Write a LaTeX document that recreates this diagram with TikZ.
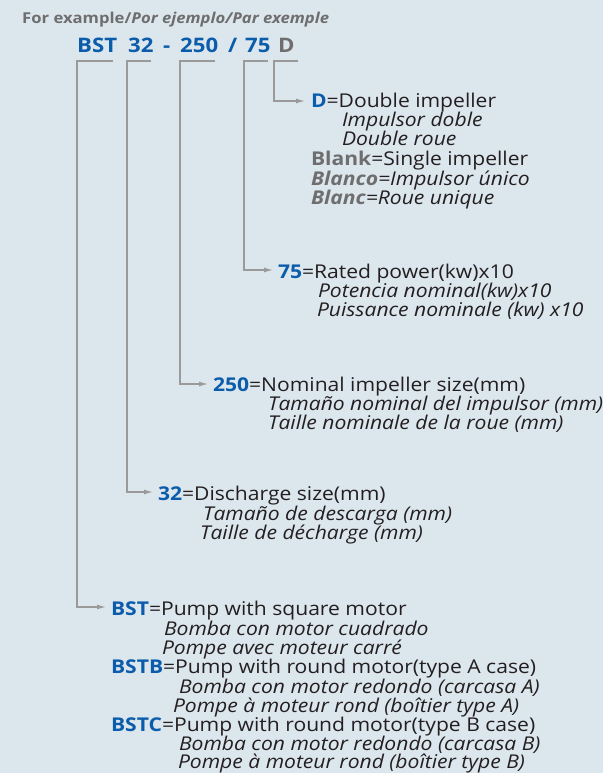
\documentclass[tikz,border=0pt]{standalone}
\usepackage{fontspec}
\setmainfont{Open Sans}[FakeStretch=1.11]
\usetikzlibrary{arrows.meta}
\definecolor{bg}{HTML}{DCE6ED}
\definecolor{blu}{HTML}{0B5CAB}
\definecolor{gry}{HTML}{6E6E6E}
\definecolor{txt}{HTML}{231F20}
\definecolor{ln}{HTML}{9A9A9A}
\tikzset{
  lbl/.style={anchor=base west,inner sep=0pt,outer sep=0pt,text=txt,font=\fontsize{19}{19}\selectfont},
  sub/.style={lbl,font=\fontsize{19}{19}\selectfont\itshape},
  code/.style={anchor=base west,inner sep=0pt,text=blu,font=\fontsize{20}{20}\selectfont\bfseries},
  brk/.style={draw=ln,line width=1.2pt},
  arr/.style={brk,-{Latex[length=9pt,width=5pt]}},
}
\newcommand{\bl}[1]{\textcolor{blu}{\bfseries #1}}
\newcommand{\gr}[1]{\textcolor{gry}{\bfseries #1}}
\begin{document}
\begin{tikzpicture}[x=1pt,y=-1pt]
\fill[bg] (0,0) rectangle (603,773);
\useasboundingbox (0,0) rectangle (603,773);
% header
\node[anchor=base west,inner sep=0pt,text=gry,font=\fontsize{15}{15}\selectfont\bfseries] (head) at (22,24) {For example/\textit{Por ejemplo/Par exemple}};
% code
\node[code] (cBST) at (77,53) {BST};
\node[code] (c32) at (128,53) {32};
\node[code] (cdash) at (163,53) {-};
\node[code] (c250) at (180,53) {250};
\node[code] (cslash) at (228,53) {/};
\node[code] (c75) at (245,53) {75};
\node[code,text=gry] (cD) at (278,53) {D};
% bracket coordinates
\coordinate (kBSTr) at (113,61); \coordinate (kBSTl) at (77,61); \coordinate (aBST) at (106,607);
\coordinate (k32r) at (151,61); \coordinate (k32l) at (127,61); \coordinate (a32) at (153,492);
\coordinate (k250r) at (215,61); \coordinate (k250l) at (180,61); \coordinate (a250) at (208,384);
\coordinate (k75r) at (268,61); \coordinate (k75l) at (244,61); \coordinate (a75) at (273,270);
\coordinate (kDr) at (298,61); \coordinate (kDl) at (274,61); \coordinate (aD) at (305,101);
\draw[arr] (kBSTr) -- (kBSTl) |- (aBST);
\draw[arr] (k32r) -- (k32l) |- (a32);
\draw[arr] (k250r) -- (k250l) |- (a250);
\draw[arr] (k75r) -- (k75l) |- (a75);
\draw[arr] (kDr) -- (kDl) |- (aD);
% D block
\node[lbl] (d1) at (311,108) {\bl{D}=Double impeller};
\node[sub] (d2) at (342,127) {Impulsor doble};
\node[sub] (d3) at (342,146) {Double roue};
\node[lbl] (d4) at (311,165) {\gr{Blank}=Single impeller};
\node[sub] (d5) at (311,185) {\gr{Blanco}=Impulsor único};
\node[sub] (d6) at (311,204) {\gr{Blanc}=Roue unique};
% 75 block
\node[lbl] (p1) at (278,278) {\bl{75}=Rated power(kw)x10};
\node[sub] (p2) at (318,297) {Potencia nominal(kw)x10};
\node[sub] (p3) at (317,316) {Puissance nominale (kw) x10};
% 250 block
\node[lbl] (n1) at (213,391) {\bl{250}=Nominal impeller size(mm)};
\node[sub] (n2) at (268,410) {Tamaño nominal del impulsor (mm)};
\node[sub] (n3) at (268,429) {Taille nominale de la roue (mm)};
% 32 block
\node[lbl] (s1) at (158,500) {\bl{32}=Discharge size(mm)};
\node[sub] (s2) at (203,520) {Tamaño de descarga (mm)};
\node[sub] (s3) at (200,539) {Taille de décharge (mm)};
% BST block
\node[lbl] (b1) at (111,615) {\bl{BST}=Pump with square motor};
\node[sub] (b2) at (164,635) {Bomba con motor cuadrado};
\node[sub] (b3) at (162,654) {Pompe avec moteur carré};
\node[lbl] (b4) at (111,673) {\bl{BSTB}=Pump with round motor(type A case)};
\node[sub] (b5) at (179,693) {Bomba con motor redondo (carcasa A)};
\node[sub] (b6) at (173,712) {Pompe à moteur rond (boîtier type A)};
\node[lbl] (b7) at (111,731) {\bl{BSTC}=Pump with round motor(type B case)};
\node[sub] (b8) at (179,750) {Bomba con motor redondo (carcasa  B)};
\node[sub] (b9) at (178,768) {Pompe à moteur rond (boîtier type B)};
\end{tikzpicture}
\end{document}
